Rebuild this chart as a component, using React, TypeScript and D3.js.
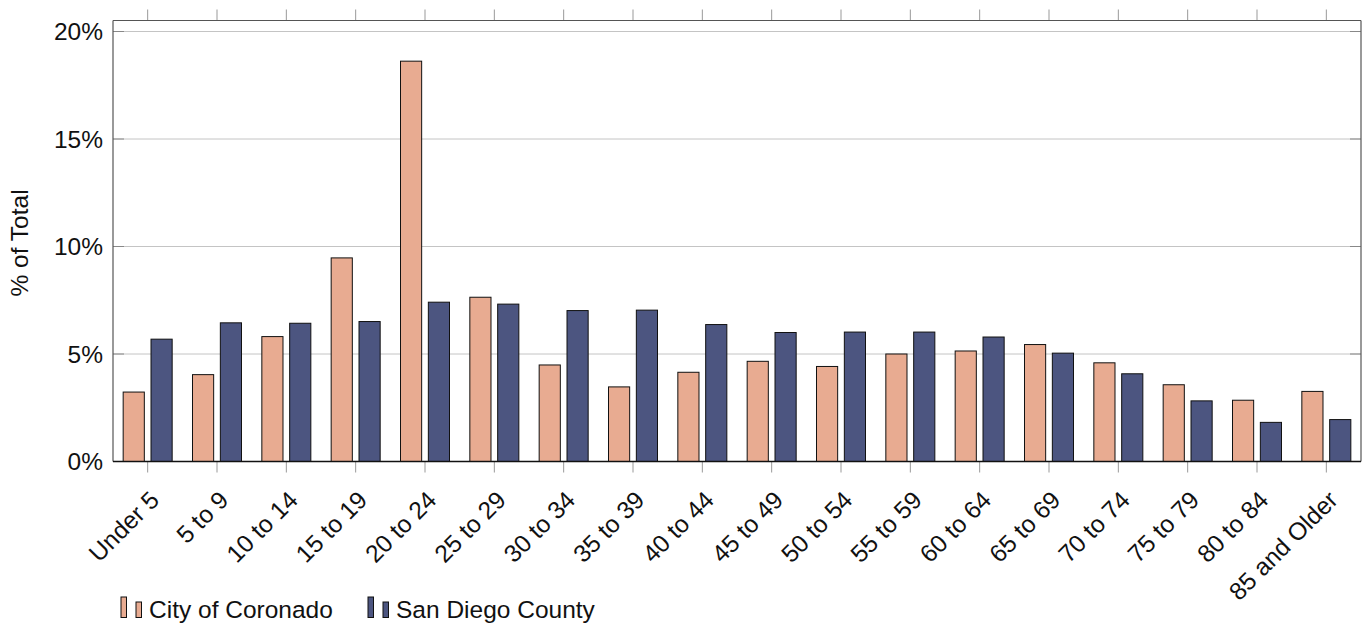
import React from "react";
import * as d3 from "d3";

const categories = [
  "Under 5", "5 to 9", "10 to 14", "15 to 19", "20 to 24", "25 to 29",
  "30 to 34", "35 to 39", "40 to 44", "45 to 49", "50 to 54", "55 to 59",
  "60 to 64", "65 to 69", "70 to 74", "75 to 79", "80 to 84", "85 and Older",
];
const coronado = [3.23, 4.04, 5.81, 9.47, 18.62, 7.64, 4.49, 3.47, 4.15, 4.66, 4.42, 5.0, 5.14, 5.44, 4.59, 3.57, 2.85, 3.26];
const sanDiego = [5.69, 6.45, 6.43, 6.51, 7.41, 7.32, 7.02, 7.04, 6.37, 6.0, 6.02, 6.02, 5.79, 5.04, 4.08, 2.82, 1.82, 1.95];
const seriesNames = ["City of Coronado", "San Diego County"];
const seriesColors = ["#E8AB91", "#4C5580"];
const yTicks = [0, 5, 10, 15, 20];

const W = 1364, H = 626;
const L = 113, R = 1361, T = 20.5, B = 461.5;
const FONT = "'Liberation Sans', Arial, Helvetica, sans-serif";
const FS = 24.5;

export default function App() {
  const x = d3.scaleBand<string>().domain(categories).range([L, R]).paddingInner(0).paddingOuter(0);
  const x1 = d3.scaleBand<string>().domain(seriesNames).range([-24.5, 24.5]).paddingInner(0.24);
  const y = d3.scaleLinear().domain([0, 20]).range([B, 31.5]);
  const data = [coronado, sanDiego];
  const cx = (c: string) => (x(c) as number) + x.bandwidth() / 2;

  return (
    <div style={{ position: "absolute", left: 0, top: 0 }}>
      <svg width={W} height={H} style={{ display: "block", fontFamily: FONT }}>
        <rect x={0} y={0} width={W} height={H} fill="#fff" />
        {/* gridlines */}
        {yTicks.map((t) => (
          <line key={"g" + t} x1={L} x2={R} y1={y(t)} y2={y(t)} stroke="#c4c4c4" strokeWidth={1} />
        ))}
        {/* y ticks inside */}
        {yTicks.map((t) => (
          <g key={"yt" + t}>
            <line x1={L} x2={L + 11} y1={y(t)} y2={y(t)} stroke="#888" strokeWidth={1} />
            <line x1={R - 11} x2={R} y1={y(t)} y2={y(t)} stroke="#888" strokeWidth={1} />
            <text x={103} y={y(t)} dy="0.35em" textAnchor="end" fontSize={FS} fill="#111">
              {t + "%"}
            </text>
          </g>
        ))}
        {/* bars */}
        {data.map((vals, si) =>
          categories.map((c, i) => (
            <rect
              key={si + "-" + c}
              x={cx(c) + (x1(seriesNames[si]) as number)}
              y={y(vals[i])}
              width={x1.bandwidth()}
              height={B - y(vals[i])}
              fill={seriesColors[si]}
              stroke="#111"
              strokeWidth={1}
            />
          ))
        )}
        {/* x ticks outside (top and bottom) */}
        {categories.map((c) => (
          <g key={"xt" + c}>
            <line x1={cx(c)} x2={cx(c)} y1={T} y2={T - 11} stroke="#999" strokeWidth={1} />
            <line x1={cx(c)} x2={cx(c)} y1={B} y2={B + 11} stroke="#999" strokeWidth={1} />
            <text
              transform={`translate(${cx(c) + 13},${B + 40}) rotate(-45)`}
              textAnchor="end"
              fontSize={FS}
              fill="#111"
            >
              {c}
            </text>
          </g>
        ))}
        {/* frame */}
        <line x1={L} x2={R} y1={T} y2={T} stroke="#555" strokeWidth={1.2} />
        <line x1={L} x2={L} y1={T} y2={B} stroke="#555" strokeWidth={1.2} />
        <line x1={R} x2={R} y1={T} y2={B} stroke="#555" strokeWidth={1.2} />
        <line x1={L} x2={R} y1={B} y2={B} stroke="#111" strokeWidth={1.4} />
        {/* y axis label */}
        <text transform={`translate(28,${(T + B) / 2 + 2}) rotate(-90)`} textAnchor="middle" fontSize={FS} fill="#111">
          % of Total
        </text>
        {/* legend */}
        {seriesNames.map((s, i) => {
          const x0 = i === 0 ? 121 : 368;
          return (
            <g key={"lg" + s}>
              <rect x={x0} y={597} width={5.5} height={20.5} fill={seriesColors[i]} stroke="#111" strokeWidth={1} />
              <rect x={x0 + 15} y={602} width={5.5} height={15.5} fill={seriesColors[i]} stroke="#111" strokeWidth={1} />
              <text x={x0 + 28} y={618} fontSize={FS} fill="#111">
                {s}
              </text>
            </g>
          );
        })}
      </svg>
    </div>
  );
}
